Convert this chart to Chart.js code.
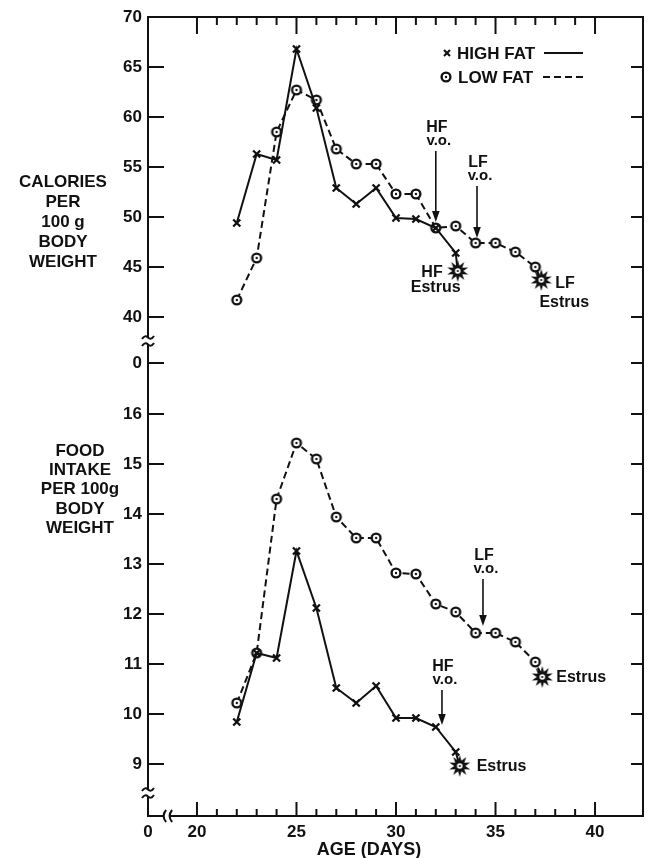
<!DOCTYPE html>
<html>
<head>
<meta charset="utf-8">
<script src="https://cdn.jsdelivr.net/npm/chart.js@4.4.1/dist/chart.umd.min.js"></script>
<style>
  html, body { margin: 0; background: #fff; }
  canvas { display: block; }
</style>
</head>
<body>
<canvas id="chart" width="655" height="858"></canvas>
<script>
// ── Data ──────────────────────────────────────────────────────────────────────
const hfDays = [22, 23, 24, 25, 26, 27, 28, 29, 30, 31, 32, 33];
const lfDays = [22, 23, 24, 25, 26, 27, 28, 29, 30, 31, 32, 33, 34, 35, 36, 37];

const hfCalories = [49.4, 56.3, 55.7, 66.8, 60.9, 52.9, 51.3, 52.9, 49.9, 49.8, 48.9, 46.4];
const lfCalories = [41.7, 45.9, 58.5, 62.7, 61.7, 56.8, 55.3, 55.3, 52.3, 52.3, 48.9, 49.1, 47.4, 47.4, 46.5, 45.0];

const hfIntake = [9.84, 11.22, 11.12, 13.26, 12.12, 10.52, 10.22, 10.56, 9.92, 9.92, 9.74, 9.24];
const lfIntake = [10.22, 11.22, 14.3, 15.42, 15.1, 13.94, 13.52, 13.52, 12.82, 12.8, 12.2, 12.04, 11.62, 11.62, 11.44, 11.04];

// estrus points: [calories panel, intake panel]
const hfEstrusDay   = [33.1, 33.2];
const hfEstrusValue = [44.6, 8.96];
const lfEstrusDay   = [37.3, 37.35];
const lfEstrusValue = [43.7, 10.74];

// vaginal opening arrows: day, arrow start, arrow tip
const voLabels  = ['HF', 'LF', 'LF', 'HF'];
const voPanel   = ['cal', 'cal', 'food', 'food'];
const voDay     = [32, 34.07, 34.37, 32.31];
const voFrom    = [56.6, 53.1, 12.7, 10.48];
const voTo      = [49.5, 47.9, 11.76, 9.78];

// tick labels
const dayTicks    = [20, 25, 30, 35, 40];
const calTicks    = [40, 45, 50, 55, 60, 65, 70];
const intakeTicks = [9, 10, 11, 12, 13, 14, 15, 16];

// broken-axis ranges
const dayMin = 17.54, dayMax = 42.41, dayBreak = 18.5;
const calMin = 32.8, calMax = 70, calZero = 35.4, calBreak = 37.6;
const foodMin = 7.96, foodMax = 16.5, foodBreak = 8.42;

const INK = '#111';
const FONT = '"Liberation Sans", Arial, sans-serif';

// ── Marker images ────────────────────────────────────────────────────────────
function ringMarker() {
  const c = document.createElement('canvas');
  c.width = c.height = 14;
  const g = c.getContext('2d');
  g.fillStyle = '#fff'; g.strokeStyle = INK; g.lineWidth = 2.4;
  g.beginPath(); g.arc(7, 7, 4.4, 0, Math.PI * 2); g.fill(); g.stroke();
  g.fillStyle = INK;
  g.beginPath(); g.arc(7, 7, 1.2, 0, Math.PI * 2); g.fill();
  return c;
}
function burstMarker() {
  const c = document.createElement('canvas');
  c.width = c.height = 24;
  const g = c.getContext('2d');
  g.fillStyle = INK;
  g.beginPath();
  const n = 10;
  for (let i = 0; i < n * 2; i++) {
    const r = i % 2 ? 5.6 : 11;
    const a = i * Math.PI / n - Math.PI / 2;
    g.lineTo(12 + r * Math.cos(a), 12 + r * Math.sin(a));
  }
  g.closePath(); g.fill();
  g.fillStyle = '#fff';
  g.beginPath(); g.arc(12, 12, 2.8, 0, Math.PI * 2); g.fill();
  g.fillStyle = INK;
  g.beginPath(); g.arc(12, 12, 1.1, 0, Math.PI * 2); g.fill();
  return c;
}
const RING = ringMarker();
const BURST = burstMarker();

function series(days, values, estrusDay, estrusValue) {
  return days.map((d, i) => ({ x: d, y: values[i] })).concat([{ x: estrusDay, y: estrusValue }]);
}
const lastIs = (other) => ctx => ctx.dataIndex === ctx.dataset.data.length - 1 ? BURST : other;

function hfSet(data, axis) {
  return {
    data, yAxisID: axis, borderColor: INK, backgroundColor: INK,
    borderWidth: 2, tension: 0,
    pointStyle: lastIs('crossRot'), pointRadius: 5, pointBorderWidth: 2.3,
    pointBorderColor: INK, pointBackgroundColor: INK,
  };
}
function lfSet(data, axis) {
  return {
    data, yAxisID: axis, borderColor: INK, backgroundColor: '#fff',
    borderWidth: 2, borderDash: [7, 4], tension: 0,
    pointStyle: lastIs(RING), pointRadius: 5, pointBorderWidth: 2,
  };
}

// ── Frame, inward ticks, breaks and annotations ──────────────────────────────
const paperPlugin = {
  id: 'paper',
  beforeDraw(chart) {
    const { ctx, width, height } = chart;
    ctx.save(); ctx.fillStyle = '#fff'; ctx.fillRect(0, 0, width, height); ctx.restore();
  },
  afterDraw(chart) {
    const { ctx, chartArea: a, scales } = chart;
    const xs = scales.x, yc = scales.yCal, yf = scales.yFood;
    const line = (x1, y1, x2, y2) => { ctx.beginPath(); ctx.moveTo(x1, y1); ctx.lineTo(x2, y2); ctx.stroke(); };
    ctx.save();
    ctx.strokeStyle = INK; ctx.fillStyle = INK; ctx.lineWidth = 2;

    ctx.strokeRect(a.left, a.top, a.right - a.left, a.bottom - a.top);

    // day ticks top & bottom (inward)
    for (let d = dayTicks[0]; d <= dayTicks[dayTicks.length - 1]; d++) {
      const px = xs.getPixelForValue(d), major = dayTicks.includes(d);
      line(px, a.top, px, a.top + (major ? 17 : 8));
      line(px, a.bottom, px, a.bottom - (major ? 14 : 7));
    }
    // value ticks left & right (inward)
    [yc, yf].forEach(s => s.ticks.forEach(t => {
      const py = s.getPixelForValue(t.value);
      line(a.left, py, a.left + 16, py);
      line(a.right - 12, py, a.right, py);
    }));

    // axis breaks on the left axis
    const yBreak = (py) => {
      ctx.fillStyle = '#fff'; ctx.fillRect(a.left - 2, py - 3, 4, 6); ctx.fillStyle = INK;
      [-3.5, 3.5].forEach(o => {
        const cy = py + o, cx = a.left;
        ctx.beginPath();
        ctx.moveTo(cx - 6, cy + 1.5);
        ctx.quadraticCurveTo(cx - 3, cy - 3, cx, cy);
        ctx.quadraticCurveTo(cx + 3, cy + 3, cx + 6, cy - 1.5);
        ctx.stroke();
      });
    };
    yBreak(yc.getPixelForValue(calBreak));
    yBreak(yf.getPixelForValue(foodBreak));
    // break on the day axis
    const bx = xs.getPixelForValue(dayBreak);
    ctx.fillStyle = '#fff'; ctx.fillRect(bx - 3, a.bottom - 2, 6, 4); ctx.fillStyle = INK;
    [-3, 3].forEach(o => {
      ctx.beginPath();
      ctx.moveTo(bx + o + 2, a.bottom - 6);
      ctx.quadraticCurveTo(bx + o - 3, a.bottom, bx + o + 2, a.bottom + 6);
      ctx.stroke();
    });

    // v.o. arrows
    ctx.textAlign = 'center'; ctx.textBaseline = 'middle';
    voLabels.forEach((lab, i) => {
      const s = voPanel[i] === 'cal' ? yc : yf;
      const px = xs.getPixelForValue(voDay[i]);
      const y0 = s.getPixelForValue(voFrom[i]), y1 = s.getPixelForValue(voTo[i]);
      ctx.lineWidth = 1.6;
      line(px, y0, px, y1 - 8);
      ctx.beginPath(); ctx.moveTo(px - 3.8, y1 - 11); ctx.lineTo(px + 3.8, y1 - 11); ctx.lineTo(px, y1); ctx.closePath(); ctx.fill();
      ctx.font = 'bold 16px ' + FONT; ctx.fillText(lab, px + 1, y0 - 23);
      ctx.font = 'bold 15px ' + FONT; ctx.fillText('v.o.', px + 3, y0 - 10);
    });

    // estrus labels
    ctx.font = 'bold 16px ' + FONT;
    let sx = xs.getPixelForValue(hfEstrusDay[0]), sy = yc.getPixelForValue(hfEstrusValue[0]);
    ctx.textAlign = 'right'; ctx.fillText('HF', sx - 15, sy + 2);
    ctx.textAlign = 'center'; ctx.fillText('Estrus', sx - 22, sy + 17);
    sx = xs.getPixelForValue(lfEstrusDay[0]); sy = yc.getPixelForValue(lfEstrusValue[0]);
    ctx.textAlign = 'left'; ctx.fillText('LF', sx + 14, sy + 4);
    ctx.textAlign = 'center'; ctx.fillText('Estrus', sx + 23, sy + 23);
    ctx.textAlign = 'left';
    sx = xs.getPixelForValue(lfEstrusDay[1]); sy = yf.getPixelForValue(lfEstrusValue[1]);
    ctx.fillText('Estrus', sx + 14, sy + 1);
    sx = xs.getPixelForValue(hfEstrusDay[1]); sy = yf.getPixelForValue(hfEstrusValue[1]);
    ctx.fillText('Estrus', sx + 17, sy + 1);

    // legend
    ctx.font = 'bold 17px ' + FONT; ctx.textAlign = 'left';
    ctx.lineWidth = 2.2;
    line(444, 50, 450, 56); line(450, 50, 444, 56);
    ctx.fillText('HIGH FAT', 457, 54);
    ctx.lineWidth = 2; line(544, 53, 583, 53);
    ctx.drawImage(RING, 446 - 7, 77 - 7);
    ctx.fillText('LOW FAT', 458, 78);
    ctx.setLineDash([7, 4]); line(543, 77, 584, 77); ctx.setLineDash([]);

    // axis titles
    ctx.textAlign = 'center';
    ['CALORIES', 'PER', '100 g', 'BODY', 'WEIGHT'].forEach((t, i) => ctx.fillText(t, 63, 182 + i * 20.2));
    ['FOOD', 'INTAKE', 'PER 100g', 'BODY', 'WEIGHT'].forEach((t, i) => ctx.fillText(t, 80, 451 + i * 19.3));
    ctx.font = 'bold 18px ' + FONT;
    ctx.fillText('AGE (DAYS)', 369, 850);
    ctx.restore();
  }
};

Chart.defaults.font.family = FONT;
Chart.defaults.font.weight = 'bold';
Chart.defaults.font.size = 17;
Chart.defaults.color = INK;

new Chart(document.getElementById('chart'), {
  type: 'line',
  data: {
    datasets: [
      hfSet(series(hfDays, hfCalories, hfEstrusDay[0], hfEstrusValue[0]), 'yCal'),
      lfSet(series(lfDays, lfCalories, lfEstrusDay[0], lfEstrusValue[0]), 'yCal'),
      hfSet(series(hfDays, hfIntake, hfEstrusDay[1], hfEstrusValue[1]), 'yFood'),
      lfSet(series(lfDays, lfIntake, lfEstrusDay[1], lfEstrusValue[1]), 'yFood'),
    ]
  },
  options: {
    responsive: false,
    animation: false,
    devicePixelRatio: 1,
    layout: { padding: { left: 0, right: 12, top: 17, bottom: 0 } },
    plugins: { legend: { display: false }, tooltip: { enabled: false } },
    scales: {
      x: {
        type: 'linear', min: dayMin, max: dayMax,
        grid: { display: false, drawTicks: false }, border: { display: false },
        afterBuildTicks: s => { s.ticks = [dayMin].concat(dayTicks).map(v => ({ value: v })); },
        afterFit: s => { s.height = 42; },
        ticks: { autoSkip: false, maxRotation: 0, padding: 6, callback: v => v === dayMin ? '0' : v },
      },
      yCal: {
        type: 'linear', position: 'left', stack: 'panels', stackWeight: 372, weight: 1,
        min: calMin, max: calMax,
        grid: { display: false, drawTicks: false }, border: { display: false },
        afterBuildTicks: s => { s.ticks = [calZero].concat(calTicks).map(v => ({ value: v })); },
        afterFit: s => { s.width = 148; },
        ticks: { autoSkip: false, padding: 6, callback: v => v === calZero ? '0' : v },
      },
      yFood: {
        type: 'linear', position: 'left', stack: 'panels', stackWeight: 427, weight: 0,
        min: foodMin, max: foodMax,
        grid: { display: false, drawTicks: false }, border: { display: false },
        afterBuildTicks: s => { s.ticks = intakeTicks.map(v => ({ value: v })); },
        afterFit: s => { s.width = 148; },
        ticks: { autoSkip: false, padding: 6 },
      },
    }
  },
  plugins: [paperPlugin]
});
</script>
</body>
</html>
